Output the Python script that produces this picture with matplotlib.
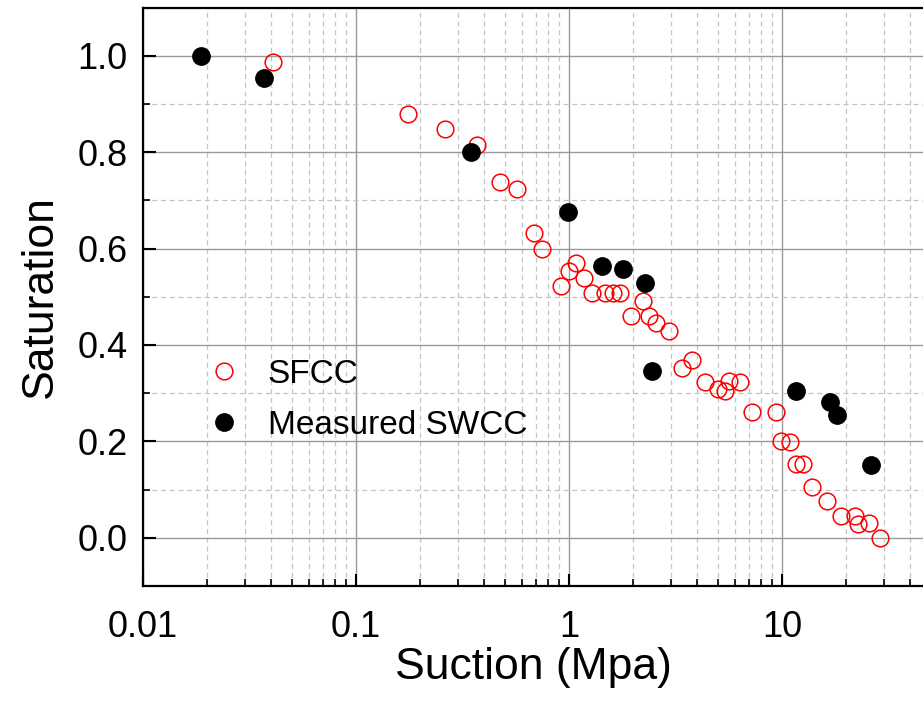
import matplotlib
matplotlib.use("Agg")
import matplotlib.pyplot as plt
from matplotlib.ticker import LogLocator, MultipleLocator, NullFormatter

plt.rcParams['font.family'] = ['Liberation Sans', 'DejaVu Sans']

# SFCC (open red circles)
sfcc_x = [0.0406, 0.176, 0.263, 0.368, 0.473, 0.569, 0.684, 0.746,
          0.917, 1.0, 1.08, 1.18, 1.28, 1.48, 1.61, 1.74, 1.96, 2.23,
          2.38, 2.57, 2.96, 3.41, 3.76, 4.33, 4.99, 5.38, 5.62, 6.34,
          7.22, 9.37, 9.89, 10.9, 11.6, 12.6, 13.9, 16.3, 19.0, 21.9,
          22.8, 25.7, 28.7]
sfcc_y = [0.986, 0.880, 0.847, 0.815, 0.739, 0.724, 0.633, 0.600,
          0.522, 0.553, 0.569, 0.538, 0.507, 0.507, 0.507, 0.507, 0.461, 0.492,
          0.461, 0.445, 0.429, 0.352, 0.368, 0.323, 0.308, 0.305, 0.325, 0.323,
          0.260, 0.260, 0.200, 0.199, 0.153, 0.153, 0.106, 0.077, 0.046, 0.046,
          0.029, 0.031, 0.000]

# Measured SWCC (filled black circles)
swcc_x = [0.0188, 0.0368, 0.345, 0.99, 1.43, 1.80, 2.28, 2.44, 11.6, 16.8, 18.2, 26.3]
swcc_y = [1.000, 0.954, 0.800, 0.675, 0.563, 0.557, 0.528, 0.346, 0.304, 0.282, 0.255, 0.151]

x_ticks = [0.01, 0.1, 1, 10]
x_ticklabels = ['0.01', '0.1', '1', '10']
y_ticks = [0.0, 0.2, 0.4, 0.6, 0.8, 1.0]
y_ticklabels = ['0.0', '0.2', '0.4', '0.6', '0.8', '1.0']

W, H = 923, 704
fig = plt.figure(figsize=(W / 100, H / 100), dpi=100)
ax = fig.add_axes([143 / W, (H - 586) / H, (W - 143) / W, (586 - 7.5) / H])

ax.set_xscale('log')
ax.set_xlim(0.01, 10 ** (-2 + 780 / 213))
ax.set_ylim(-0.1, 1.1)

ax.plot(sfcc_x, sfcc_y, linestyle='none', marker='o', markersize=12,
        markerfacecolor='none', markeredgecolor='red', markeredgewidth=1.1,
        label='SFCC', zorder=3)
ax.plot(swcc_x, swcc_y, linestyle='none', marker='o', markersize=12.5,
        markerfacecolor='black', markeredgecolor='black',
        label='Measured SWCC', zorder=4)

ax.set_xticks(x_ticks)
ax.set_xticklabels(x_ticklabels)
ax.xaxis.set_minor_locator(LogLocator(base=10, subs=range(2, 10), numticks=20))
ax.xaxis.set_minor_formatter(NullFormatter())
ax.set_yticks(y_ticks)
ax.set_yticklabels(y_ticklabels)
ax.yaxis.set_minor_locator(MultipleLocator(0.1))

ax.grid(which='major', color='#9a9a9a', linestyle='-', linewidth=1.0, zorder=0)
ax.grid(which='minor', color='#c4c4c4', linestyle=(0, (4, 3)), linewidth=0.9, zorder=0)
ax.set_axisbelow(True)

ax.tick_params(which='major', direction='in', length=9, width=1.5, labelsize=26)
ax.tick_params(which='minor', direction='in', length=5, width=1.2)
ax.tick_params(axis='y', which='major', pad=11)
ax.tick_params(axis='x', which='major', pad=17)

for s in ['left', 'bottom', 'top']:
    ax.spines[s].set_linewidth(1.6)
ax.spines['right'].set_visible(False)

ax.set_xlabel('Suction (Mpa)', fontsize=32, labelpad=2)
ax.set_ylabel('Saturation', fontsize=32, labelpad=12)

leg = ax.legend(loc='center left', bbox_to_anchor=(0.083, 0.322), frameon=False,
                fontsize=24, handlelength=1.0, handletextpad=0.8, labelspacing=0.6,
                borderpad=0.0, borderaxespad=0.0, markerscale=1.0)

fig.savefig('out.png', dpi=100)
